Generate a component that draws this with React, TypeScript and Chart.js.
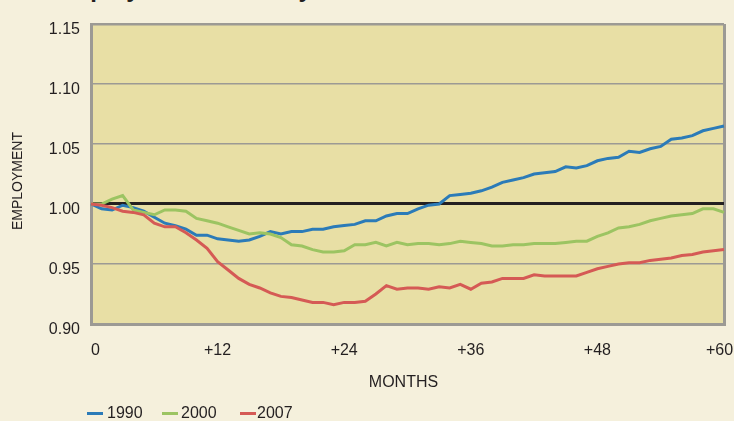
import React, { useEffect, useRef } from 'react';
import { Chart, registerables } from 'chart.js';

Chart.register(...registerables);

// ---- data ----
const months = [
  0, 1, 2, 3, 4, 5, 6, 7, 8, 9, 10, 11, 12, 13, 14, 15, 16, 17, 18, 19, 20,
  21, 22, 23, 24, 25, 26, 27, 28, 29, 30, 31, 32, 33, 34, 35, 36, 37, 38, 39, 40,
  41, 42, 43, 44, 45, 46, 47, 48, 49, 50, 51, 52, 53, 54, 55, 56, 57, 58, 59, 60,
];
const xTickMonths = [0, 12, 24, 36, 48, 60];
const xTickLabels = ['0', '+12', '+24', '+36', '+48', '+60'];
const yTickValues = [0.9, 0.95, 1.0, 1.05, 1.1, 1.15];

const series1990 = [
  1.0, 0.996, 0.995, 0.999, 0.997, 0.994, 0.989, 0.984, 0.982, 0.979, 0.974,
  0.974, 0.971, 0.97, 0.969, 0.97, 0.973, 0.977, 0.975, 0.977, 0.977,
  0.979, 0.979, 0.981, 0.982, 0.983, 0.986, 0.986, 0.99, 0.992, 0.992,
  0.996, 0.999, 1.0, 1.007, 1.008, 1.009, 1.011, 1.014, 1.018, 1.02,
  1.022, 1.025, 1.026, 1.027, 1.031, 1.03, 1.032, 1.036, 1.038, 1.039,
  1.044, 1.043, 1.046, 1.048, 1.054, 1.055, 1.057, 1.061, 1.063, 1.065,
];
const series2000 = [
  1.0, 1.0, 1.004, 1.007, 0.995, 0.993, 0.991, 0.995, 0.995, 0.994, 0.988,
  0.986, 0.984, 0.981, 0.978, 0.975, 0.976, 0.975, 0.972, 0.966, 0.965,
  0.962, 0.96, 0.96, 0.961, 0.966, 0.966, 0.968, 0.965, 0.968, 0.966,
  0.967, 0.967, 0.966, 0.967, 0.969, 0.968, 0.967, 0.965, 0.965, 0.966,
  0.966, 0.967, 0.967, 0.967, 0.968, 0.969, 0.969, 0.973, 0.976, 0.98,
  0.981, 0.983, 0.986, 0.988, 0.99, 0.991, 0.992, 0.996, 0.996, 0.993,
];
const series2007 = [
  1.0, 0.999, 0.997, 0.994, 0.993, 0.991, 0.984, 0.981, 0.981, 0.976, 0.97,
  0.963, 0.952, 0.945, 0.938, 0.933, 0.93, 0.926, 0.923, 0.922, 0.92,
  0.918, 0.918, 0.916, 0.918, 0.918, 0.919, 0.925, 0.932, 0.929, 0.93,
  0.93, 0.929, 0.931, 0.93, 0.933, 0.929, 0.934, 0.935, 0.938, 0.938,
  0.938, 0.941, 0.94, 0.94, 0.94, 0.94, 0.943, 0.946, 0.948, 0.95,
  0.951, 0.951, 0.953, 0.954, 0.955, 0.957, 0.958, 0.96, 0.961, 0.962,
];
const seriesNames = ['1990', '2000', '2007'];

// ---- styles ----
const COLORS = ['#2B7BB8', '#9CC462', '#D55A55'];
const PAGE_BG = '#F5F0DC';
const PLOT_BG = '#E8DFA5';
const GRID = '#9C9A94';
const TEXT = '#231F20';
const FONT = '"Liberation Sans", Arial, sans-serif';

const plotBg = {
  id: 'plotBg',
  beforeDraw(chart: any) {
    const { ctx, chartArea } = chart;
    if (!chartArea) return;
    ctx.save();
    ctx.fillStyle = PLOT_BG;
    ctx.fillRect(chartArea.left, chartArea.top, chartArea.right - chartArea.left, chartArea.bottom - chartArea.top);
    ctx.restore();
  },
};

export default function App() {
  const canvasRef = useRef<HTMLCanvasElement | null>(null);

  useEffect(() => {
    if (!canvasRef.current) return;
    const allSeries = [series1990, series2000, series2007];
    const chart = new Chart(canvasRef.current, {
      type: 'line',
      data: {
        labels: months.map(String),
        datasets: allSeries.map((s, i) => ({
          label: seriesNames[i],
          data: s,
          borderColor: COLORS[i],
          backgroundColor: COLORS[i],
          borderWidth: 3,
          pointRadius: 0,
          tension: 0,
          fill: false,
          order: 2 - i,
        })),
      },
      options: {
        animation: false,
        responsive: true,
        maintainAspectRatio: false,
        layout: { padding: { left: 0, top: 24, right: 10, bottom: 0 } },
        plugins: {
          legend: { display: false },
          tooltip: { enabled: false },
          title: { display: false },
        },
        scales: {
          x: {
            type: 'category',
            grid: {
              display: true,
              drawTicks: false,
              color: (c: any) => (c.index === months.length - 1 ? GRID : 'rgba(0,0,0,0)'),
              lineWidth: 3,
            },
            border: { display: true, color: GRID, width: 3 },
            ticks: {
              autoSkip: false,
              maxRotation: 0,
              minRotation: 0,
              padding: 17,
              color: TEXT,
              font: { family: FONT, size: 16 },
              callback: (_v: any, i: number) => {
                const k = xTickMonths.indexOf(months[i]);
                if (k < 0) return '';
                // first / last labels nudged inward like the original
                if (k === 0) return '  ' + xTickLabels[k];
                if (k === xTickLabels.length - 1) return xTickLabels[k] + '  ';
                return xTickLabels[k];
              },
            },
            afterFit: (s: any) => {
              s.height = 97;
              s.paddingLeft = 0;
              s.paddingRight = 0;
            },
          },
          y: {
            type: 'linear',
            min: yTickValues[0],
            max: yTickValues[yTickValues.length - 1],
            grid: {
              drawTicks: false,
              color: (c: any) => (c.tick && Math.abs(c.tick.value - 1) < 1e-6 ? TEXT : GRID),
              lineWidth: (c: any) => {
                if (!c.tick) return 1.5;
                if (Math.abs(c.tick.value - 1) < 1e-6) return 3;
                if (Math.abs(c.tick.value - 1.15) < 1e-6) return 2.5;
                return 1.5;
              },
            },
            border: { display: true, color: GRID, width: 3 },
            ticks: {
              stepSize: 0.05,
              padding: 11,
              labelOffset: 6,
              color: TEXT,
              font: { family: FONT, size: 16 },
              callback: (v: any) => Number(v).toFixed(2),
            },
            afterFit: (s: any) => {
              s.width = 91;
              s.paddingTop = 0;
              s.paddingBottom = 0;
            },
          },
        },
      },
      plugins: [plotBg],
    } as any);
    return () => chart.destroy();
  }, []);

  return (
    <div
      style={{
        position: 'fixed',
        left: 0,
        top: 0,
        width: 734,
        height: 421,
        background: PAGE_BG,
        overflow: 'hidden',
        color: TEXT,
      }}
    >
      <div
        style={{
          position: 'absolute',
          left: 53,
          top: -23,
          fontFamily: FONT,
          fontWeight: 700,
          fontSize: 24,
          lineHeight: '24px',
          whiteSpace: 'nowrap',
        }}
      >
        Employment Recovery
      </div>
      <canvas ref={canvasRef} style={{ position: 'absolute', left: 0, top: 0, width: 734, height: 421 }} />
      <div
        style={{
          position: 'absolute',
          left: 17,
          top: 181,
          transform: 'translate(-50%, -50%) rotate(-90deg)',
          fontFamily: FONT,
          fontSize: 14,
          lineHeight: '14px',
          whiteSpace: 'nowrap',
        }}
      >
        EMPLOYMENT
      </div>
      <div
        style={{
          position: 'absolute',
          left: 403.5,
          top: 382,
          transform: 'translate(-50%, -50%)',
          fontFamily: FONT,
          fontSize: 16,
          lineHeight: '16px',
          whiteSpace: 'nowrap',
        }}
      >
        MONTHS
      </div>
      {seriesNames.map((name, i) => {
        const swatchLeft = [87, 162, 240][i];
        const textLeft = [107, 181, 257][i];
        return (
          <React.Fragment key={name}>
            <div
              style={{
                position: 'absolute',
                left: swatchLeft,
                top: 411.5,
                width: 16,
                height: 3,
                background: COLORS[i],
              }}
            />
            <div
              style={{
                position: 'absolute',
                left: textLeft,
                top: 413,
                transform: 'translateY(-50%)',
                fontFamily: FONT,
                fontSize: 16,
                lineHeight: '16px',
                whiteSpace: 'nowrap',
              }}
            >
              {name}
            </div>
          </React.Fragment>
        );
      })}
    </div>
  );
}
